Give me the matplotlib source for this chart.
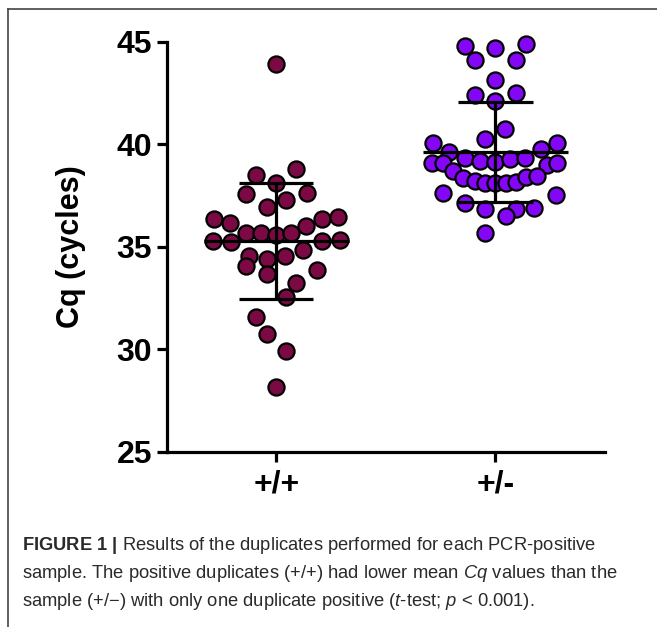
import numpy as np
from matplotlib import pyplot as plt
from matplotlib.lines import Line2D

# Cq values read off the chart, and the horizontal spread of each dot
# (fraction of the category spacing) as drawn in the scatter.
groups = ['+/+', '+/-']
cq_pos_pos = [43.90, 38.50, 38.78, 38.12, 37.57, 37.63, 37.28, 36.95, 36.35, 36.14,
              36.34, 36.46, 36.01, 35.68, 35.65, 35.57, 35.68, 35.28, 35.24, 35.28,
              35.33, 34.55, 34.41, 34.55, 34.84, 34.06, 33.65, 33.86, 33.21, 32.53,
              31.59, 30.74, 29.91, 28.14]
spread_pos_pos = [0, -0.094, 0.092, 0, -0.139, 0.140, 0.045, -0.044, -0.285, -0.211,
                  0.208, 0.281, 0.137, -0.139, -0.071, 0, 0.069, -0.290, -0.207, 0.208,
                  0.291, -0.124, -0.041, 0.042, 0.122, -0.139, -0.044, 0.186, 0.092, 0.045,
                  -0.094, -0.044, 0.045, 0]
cq_pos_neg = [44.79, 44.71, 44.87, 44.11, 44.11, 43.13, 42.40, 42.51, 42.12, 40.73,
              40.24, 40.04, 40.07, 39.63, 39.75, 39.10, 39.07, 39.31, 39.20, 39.12,
              39.28, 39.31, 38.99, 39.10, 38.71, 38.37, 38.22, 38.09, 38.12, 38.09,
              38.17, 38.39, 38.46, 37.63, 37.52, 37.12, 36.82, 36.82, 36.87, 36.50,
              35.68]
spread_pos_neg = [-0.139, 0, 0.140, -0.094, 0.092, 0, -0.094, 0.092, 0, 0.045,
                  -0.048, -0.285, 0.281, -0.211, 0.208, -0.290, -0.237, -0.139, -0.071, 0,
                  0.069, 0.137, 0.235, 0.283, -0.192, -0.147, -0.094, -0.048, 0, 0.047,
                  0.092, 0.140, 0.188, -0.237, 0.279, -0.139, -0.048, 0.092, 0.178, 0.047,
                  -0.048]
colors = ['#7b0a44', '#8306f4']

caption_lines = [
    r'$\mathbf{FIGURE\ 1\ |}$ Results of the duplicates performed for each PCR-positive',
    r'sample. The positive duplicates (+/+) had lower mean $\mathit{Cq}$ values than the',
    r'sample (+/$-$) with only one duplicate positive ($\mathit{t}$-test; $\mathit{p}$ < 0.001).',
]

plt.rcParams['font.family'] = 'Liberation Sans'
plt.rcParams['mathtext.fontset'] = 'custom'
plt.rcParams['mathtext.rm'] = 'Liberation Sans'
plt.rcParams['mathtext.it'] = 'Liberation Sans:italic'
plt.rcParams['mathtext.bf'] = 'Liberation Sans:bold'

fig = plt.figure(figsize=(6.57, 6.27), dpi=100)
ax = fig.add_axes([0.2537, 0.2796, 0.667, 0.6539])

data = [(cq_pos_pos, spread_pos_pos), (cq_pos_neg, spread_pos_neg)]
for k, (cq, spread) in enumerate(data):
    cq = np.array(cq)
    ax.scatter(k + np.array(spread), cq, s=135, color=colors[k],
               edgecolors='black', linewidths=1.6, zorder=2, clip_on=False)
    # Mean and SD bars on top of the dots.
    m, sd = cq.mean(), cq.std(ddof=1)
    ax.hlines(m, k - 0.33, k + 0.33, color='black', lw=2.3, zorder=3)
    ax.hlines([m - sd, m + sd], k - 0.17, k + 0.17, color='black', lw=2.3, zorder=3)
    ax.vlines(k, m - sd, m + sd, color='black', lw=2.3, zorder=3)

ax.set_xlim(-0.5, 1.5)
ax.set_ylim(25, 45)
ax.set_yticks([25, 30, 35, 40, 45])
ax.set_xticks([0, 1])
ax.set_xticklabels(groups)
for s in ['top', 'right']:
    ax.spines[s].set_visible(False)
for s in ['left', 'bottom']:
    ax.spines[s].set_linewidth(2.3)
ax.tick_params(width=2.3, length=7, labelsize=23)
ax.tick_params(axis='x', pad=6)
for lab in ax.get_xticklabels() + ax.get_yticklabels():
    lab.set_fontweight('bold')
ax.set_ylabel('Cq (cycles)', fontsize=22, fontweight='bold', labelpad=22)

# Frame lines (top and left) round the figure panel.
fig.add_artist(Line2D([8 / 657, 1], [1 - 8.5 / 627, 1 - 8.5 / 627], color='#444444', lw=1.2))
fig.add_artist(Line2D([8 / 657, 8 / 657], [0, 1 - 8.5 / 627], color='#444444', lw=1.2))

for i, line in enumerate(caption_lines):
    fig.text(22 / 657, 1 - (546 + 27.5 * i) / 627, line, fontsize=13.2,
             color='#2a2a2a', va='center', ha='left')

fig.savefig('out.png', dpi=100)
